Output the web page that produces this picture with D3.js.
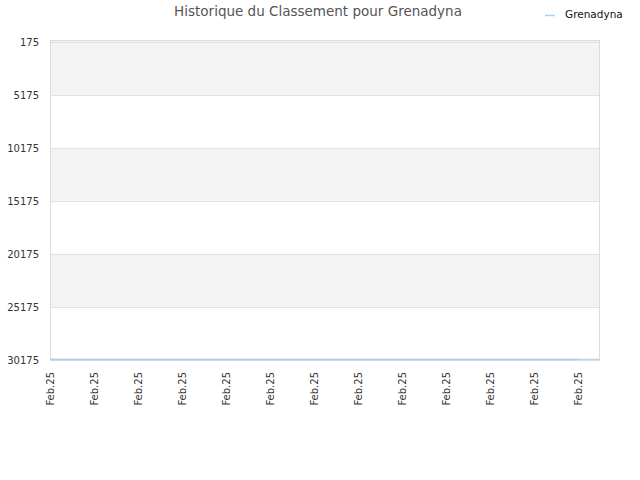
<!DOCTYPE html>
<html>
<head>
<meta charset="utf-8">
<script src="https://cdn.jsdelivr.net/npm/d3@7"></script>
<style>
  body { margin: 0; background: #fff; }
  text { font-family: "DejaVu Sans", sans-serif; }
</style>
</head>
<body>
<script>
// chart size and plot box
const width = 640;
const height = 480;
const plotLeft = 50;
const plotRight = 600;
const plotTop = 40;
const plotBottom = 360;

// data
const dates = ["Feb.25", "Feb.25", "Feb.25", "Feb.25", "Feb.25", "Feb.25", "Feb.25",
  "Feb.25", "Feb.25", "Feb.25", "Feb.25", "Feb.25", "Feb.25"];
const ranks = [30175, 30175, 30175, 30175, 30175, 30175, 30175,
  30175, 30175, 30175, 30175, 30175, 30175];
const yTicks = [175, 5175, 10175, 15175, 20175, 25175, 30175];
const seriesName = "Grenadyna";
const title = "Historique du Classement pour Grenadyna";

const svg = d3.select("body").append("svg")
  .attr("width", width)
  .attr("height", height);

const x = d3.scaleLinear()
  .domain([0, dates.length - 0.5])
  .range([plotLeft, plotRight]);

const y = d3.scaleLinear()
  .domain([175, 30175])
  .range([42, 359.5]);

// alternating bands
const bands = [];
for (let i = 0; i < yTicks.length - 1; i += 2) {
  bands.push([yTicks[i], yTicks[i + 1]]);
}
svg.append("g")
  .selectAll("rect")
  .data(bands)
  .join("rect")
  .attr("x", plotLeft)
  .attr("width", plotRight - plotLeft)
  .attr("y", (d, i) => (i === 0 ? plotTop : y(d[0])))
  .attr("height", (d, i) => y(d[1]) - (i === 0 ? plotTop : y(d[0])))
  .attr("fill", "#f3f3f3");

// grid lines
svg.append("g")
  .selectAll("line")
  .data(yTicks)
  .join("line")
  .attr("x1", plotLeft)
  .attr("x2", plotRight)
  .attr("y1", (d) => Math.round(y(d)) + 0.5)
  .attr("y2", (d) => Math.round(y(d)) + 0.5)
  .attr("stroke", "#e2e2e2");

// plot border
svg.append("rect")
  .attr("x", plotLeft + 0.5)
  .attr("y", plotTop + 0.5)
  .attr("width", plotRight - plotLeft - 1)
  .attr("height", plotBottom - plotTop - 1)
  .attr("fill", "none")
  .attr("stroke", "#dcdcdc");

// bottom axis line
svg.append("line")
  .attr("x1", plotLeft)
  .attr("x2", plotRight)
  .attr("y1", 359.5)
  .attr("y2", 359.5)
  .attr("stroke", "#b8d4ef")
  .attr("stroke-width", 1.5);

// y axis labels
svg.append("g")
  .selectAll("text")
  .data(yTicks)
  .join("text")
  .attr("x", 39)
  .attr("y", (d) => y(d) + 4)
  .attr("text-anchor", "end")
  .attr("font-size", 10)
  .attr("fill", "#333")
  .text((d) => d);

// x axis labels
svg.append("g")
  .selectAll("text")
  .data(dates)
  .join("text")
  .attr("transform", (d, i) => `translate(${x(i) + 4},${372}) rotate(-90)`)
  .attr("text-anchor", "end")
  .attr("font-size", 10)
  .attr("fill", "#333")
  .text((d) => d);

// series line
const line = d3.line()
  .x((d, i) => x(i))
  .y((d) => y(d));
svg.append("path")
  .datum(ranks)
  .attr("d", line)
  .attr("fill", "none")
  .attr("stroke", "#a8d0f5")
  .attr("stroke-width", 1.5);

// title
svg.append("text")
  .attr("x", 318)
  .attr("y", 16)
  .attr("text-anchor", "middle")
  .attr("font-size", 13.5)
  .attr("fill", "#555")
  .text(title);

// legend
svg.append("line")
  .attr("x1", 545)
  .attr("x2", 555)
  .attr("y1", 15.5)
  .attr("y2", 15.5)
  .attr("stroke", "#a8d0f5")
  .attr("stroke-width", 1.5);
svg.append("text")
  .attr("x", 565)
  .attr("y", 18)
  .attr("font-size", 10.5)
  .attr("fill", "#111")
  .text(seriesName);
</script>
</body>
</html>
